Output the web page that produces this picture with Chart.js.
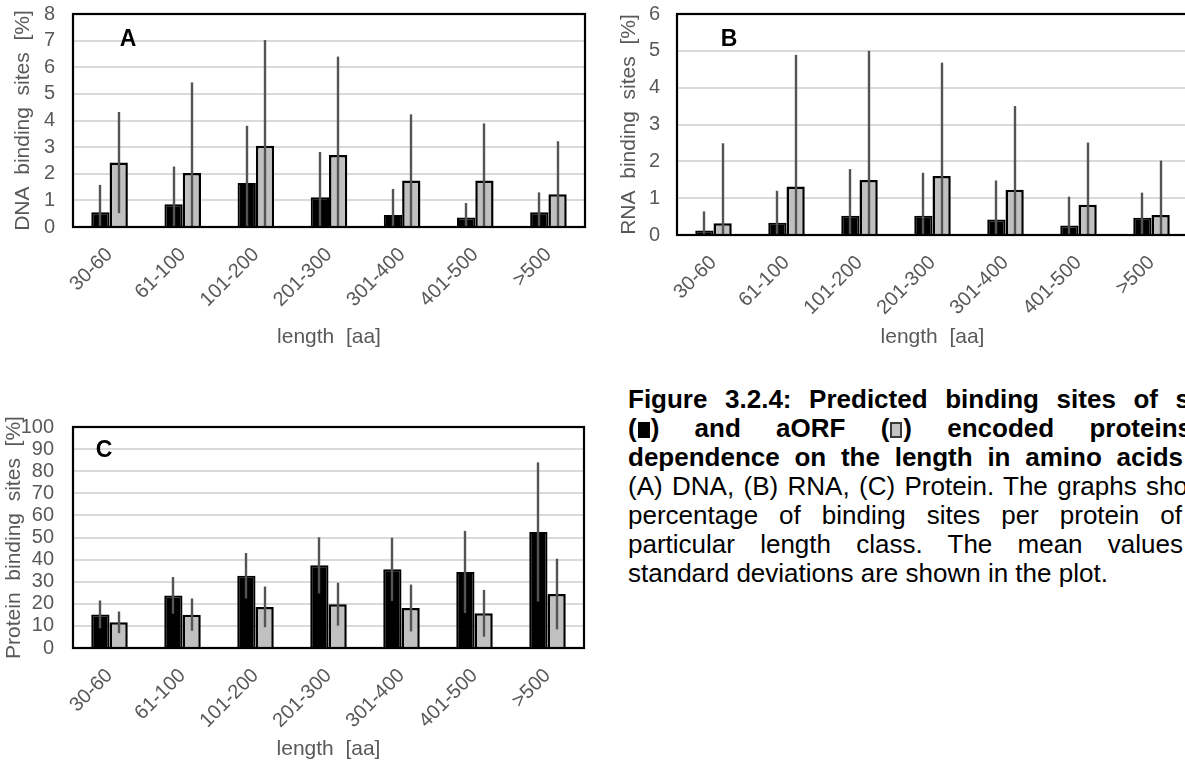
<!DOCTYPE html>
<html>
<head>
<meta charset="utf-8">
<script src="https://cdn.jsdelivr.net/npm/chart.js@4.4.0/dist/chart.umd.min.js"></script>
<style>
  html, body { margin: 0; padding: 0; background: #fff; }
  body { width: 1185px; height: 765px; overflow: hidden; position: relative; }
  canvas { position: absolute; }
  #caption {
    position: absolute; left: 628px; top: 385px;
    font-family: "Liberation Sans", Arial, sans-serif;
    font-size: 26px; line-height: 29px; color: #000;
  }
  #caption div { text-align: justify; text-align-last: justify; }
  #caption div.last { text-align: left; text-align-last: left; }
  #caption .b { font-weight: bold; }
  #caption .sq { display: inline-block; width: 12px; height: 16px; vertical-align: -1px; box-sizing: border-box; margin: 0 1px; }
  #caption .sq.black { background: #000; }
  #caption .sq.grey { background: #c4c4c4; border: 2px solid #3a3a3a; }
</style>
</head>
<body>
<canvas id="chartA" width="600" height="370" style="left:0;top:0"></canvas>
<canvas id="chartB" width="620" height="370" style="left:600px;top:0"></canvas>
<canvas id="chartC" width="600" height="385" style="left:0;top:380px"></canvas>

<div id="caption">
  <div class="b" style="width:562px">Figure 3.2.4: Predicted binding sites of s</div>
  <div class="b" style="width:564px">(<span class="sq black"></span>) and aORF (<span class="sq grey"></span>) encoded proteins</div>
  <div class="b" style="width:555px">dependence on the length in amino acids</div>
  <div style="width:560px">(A) DNA, (B) RNA, (C) Protein. The graphs sho</div>
  <div style="width:554px">percentage of binding sites per protein of</div>
  <div style="width:555px">particular length class. The mean values</div>
  <div class="last">standard deviations are shown in the plot.</div>
</div>

<script>
// Length classes (amino acids)
const lengthClasses = ['30-60', '61-100', '101-200', '201-300', '301-400', '401-500', '>500'];

// Panel A: DNA binding sites [%] — means and standard deviations
const dnaSorf     = [0.55, 0.85, 1.65, 1.12, 0.45, 0.36, 0.55];
const dnaSorfSd   = [1.03, 1.42, 2.15, 1.70, 0.98, 0.54, 0.75];
const dnaAorf     = [2.42, 2.03, 3.05, 2.70, 1.75, 1.75, 1.23];
const dnaAorfSd   = [1.90, 3.40, 3.97, 3.70, 2.48, 2.14, 1.99];
const dnaTicks    = [0, 1, 2, 3, 4, 5, 6, 7, 8];

// Panel B: RNA binding sites [%]
const rnaSorf     = [0.12, 0.33, 0.52, 0.52, 0.42, 0.26, 0.47];
const rnaSorfSd   = [0.52, 0.87, 1.27, 1.17, 1.06, 0.78, 0.68];
const rnaAorf     = [0.32, 1.32, 1.49, 1.60, 1.23, 0.82, 0.54];
const rnaAorfSd   = [2.17, 3.57, 3.51, 3.08, 2.27, 1.69, 1.48];
const rnaTicks    = [0, 1, 2, 3, 4, 5, 6];

// Panel C: protein binding sites [%]
const protSorf    = [15.2, 23.8, 32.7, 37.4, 35.6, 34.4, 52.5];
const protSorfSd  = [6.3, 8.3, 10.3, 12.7, 14.3, 18.6, 31.5];
const protAorf    = [11.6, 15.1, 18.6, 19.8, 18.1, 15.7, 24.4];
const protAorfSd  = [4.9, 7.3, 9.2, 9.7, 10.6, 10.6, 16.0];
const protTicks   = [0, 10, 20, 30, 40, 50, 60, 70, 80, 90, 100];

const FONT = '"Liberation Sans", Arial, sans-serif';
const AXIS_GREY = '#595959';
Chart.defaults.font.family = FONT;

// Vertical standard-deviation lines, drawn through each bar and clipped at zero
const errorBars = {
  id: 'errorBars',
  afterDatasetsDraw(chart) {
    const { ctx, chartArea: a, scales: { y } } = chart;
    ctx.save();
    ctx.beginPath();
    ctx.rect(a.left, a.top, a.right - a.left, a.bottom - a.top);
    ctx.clip();
    ctx.strokeStyle = '#545454';
    ctx.lineWidth = 2.4;
    chart.data.datasets.forEach((ds, i) => {
      chart.getDatasetMeta(i).data.forEach((bar, j) => {
        const mean = ds.data[j], sd = ds.sd[j];
        const top = y.getPixelForValue(mean + sd);
        const bottom = y.getPixelForValue(Math.max(0, mean - sd));
        ctx.beginPath();
        ctx.moveTo(Math.round(bar.x), top);
        ctx.lineTo(Math.round(bar.x), bottom);
        ctx.stroke();
      });
    });
    ctx.restore();
  }
};

// Black box around the plot area
const frame = {
  id: 'frame',
  afterDraw(chart) {
    const { ctx, chartArea: a } = chart;
    ctx.save();
    ctx.strokeStyle = '#000';
    ctx.lineWidth = 2.2;
    ctx.strokeRect(a.left, a.top, a.right - a.left, a.bottom - a.top);
    ctx.restore();
  }
};

// Panel letter in the upper left of the plot area
const panelLetter = {
  id: 'panelLetter',
  afterDraw(chart, args, opts) {
    const { ctx, chartArea: a } = chart;
    ctx.save();
    ctx.font = 'bold 23px ' + FONT;
    ctx.fillStyle = '#000';
    ctx.textAlign = 'center';
    ctx.textBaseline = 'middle';
    ctx.fillText(opts.text, a.left + opts.dx, a.top + opts.dy);
    ctx.restore();
  }
};

function makeChart(id, cfg) {
  return new Chart(document.getElementById(id), {
    type: 'bar',
    data: {
      labels: lengthClasses,
      datasets: [
        { label: 'sORF', data: cfg.sorf, sd: cfg.sorfSd,
          backgroundColor: '#000', borderColor: '#000', borderWidth: 2,
          categoryPercentage: 0.5, barPercentage: 1.0 },
        { label: 'aORF', data: cfg.aorf, sd: cfg.aorfSd,
          backgroundColor: '#c0c0c0', borderColor: '#000', borderWidth: 2.5,
          categoryPercentage: 0.5, barPercentage: 1.0 }
      ]
    },
    options: {
      responsive: false,
      animation: false,
      devicePixelRatio: 1,
      layout: { padding: cfg.padding },
      plugins: {
        legend: { display: false },
        tooltip: { enabled: false },
        panelLetter: cfg.letter
      },
      scales: {
        x: {
          grid: { display: false, drawTicks: false },
          border: { display: false },
          ticks: {
            color: AXIS_GREY, font: { size: 20 },
            minRotation: 45, maxRotation: 45, autoSkip: false, padding: cfg.xTickPad
          },
          title: {
            display: true, text: 'length  [aa]', color: AXIS_GREY,
            font: { size: 21 }, padding: { top: 0, bottom: cfg.xTitlePad }
          },
          afterFit(s) {
            s.height = cfg.xHeight;
            s.paddingLeft = 0; s.paddingRight = 0;
          }
        },
        y: {
          min: cfg.ticks[0],
          max: cfg.ticks[cfg.ticks.length - 1],
          grid: { color: '#dadada', lineWidth: 2, drawTicks: false },
          border: { display: false },
          ticks: { color: AXIS_GREY, font: { size: 20 }, padding: cfg.yTickPad, autoSkip: false },
          title: {
            display: true, text: cfg.yTitle, color: AXIS_GREY,
            font: { size: 21 }, padding: { top: cfg.yTitlePad, bottom: 0 }
          },
          afterBuildTicks(s) { s.ticks = cfg.ticks.map(v => ({ value: v })); },
          afterFit(s) {
            s.width = cfg.yWidth;
            s.paddingTop = 0; s.paddingBottom = 0;
          }
        }
      }
    },
    plugins: [errorBars, frame, panelLetter]
  });
}

makeChart('chartA', {
  sorf: dnaSorf, sorfSd: dnaSorfSd, aorf: dnaAorf, aorfSd: dnaAorfSd, ticks: dnaTicks,
  yTitle: 'DNA  binding  sites  [%]',
  letter: { text: 'A', dx: 55, dy: 26 },
  padding: { left: 0, top: 14, right: 15, bottom: 0 },
  yWidth: 73, yTickPad: 18, yTitlePad: 11,
  xHeight: 143, xTickPad: 16, xTitlePad: 20
});

makeChart('chartB', {
  sorf: rnaSorf, sorfSd: rnaSorfSd, aorf: rnaAorf, aorfSd: rnaAorfSd, ticks: rnaTicks,
  yTitle: 'RNA  binding  sites  [%]',
  letter: { text: 'B', dx: 52, dy: 26 },
  padding: { left: 0, top: 14, right: 32, bottom: 0 },
  yWidth: 77, yTickPad: 17, yTitlePad: 17,
  xHeight: 135, xTickPad: 16, xTitlePad: 20
});

makeChart('chartC', {
  sorf: protSorf, sorfSd: protSorfSd, aorf: protAorf, aorfSd: protAorfSd, ticks: protTicks,
  yTitle: 'Protein  binding  sites  [%]',
  letter: { text: 'C', dx: 31, dy: 24 },
  padding: { left: 0, top: 47, right: 16, bottom: 0 },
  yWidth: 73, yTickPad: 19, yTitlePad: 2,
  xHeight: 117, xTickPad: 16, xTitlePad: 3
});
</script>
</body>
</html>
